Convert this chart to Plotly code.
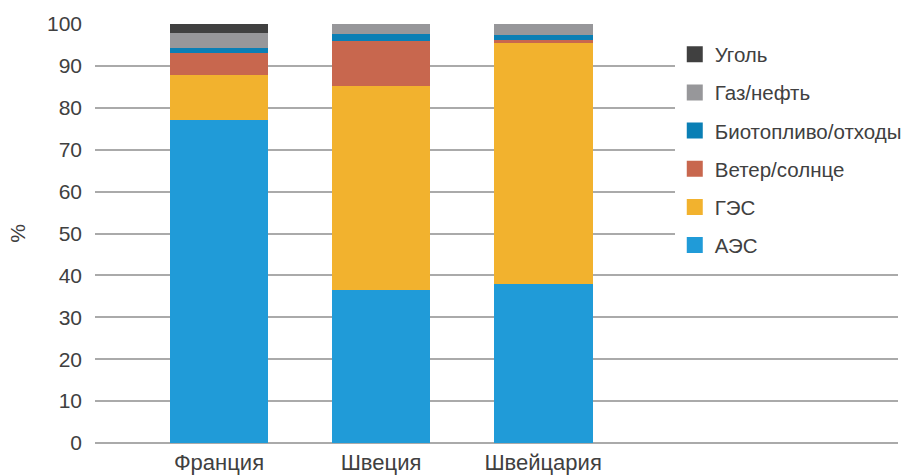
import plotly.graph_objects as go

countries = ["Франция", "Швеция", "Швейцария"]
series_names = ["АЭС", "ГЭС", "Ветер/солнце", "Биотопливо/отходы", "Газ/нефть", "Уголь"]
aes = [77.1, 36.5, 37.9]
ges = [10.7, 48.7, 57.6]
wind_solar = [5.3, 10.7, 0.7]
bio = [1.2, 1.7, 1.2]
gas_oil = [3.6, 2.4, 2.6]
coal = [2.1, 0.0, 0.0]
values = [aes, ges, wind_solar, bio, gas_oil, coal]
colors = ["#209bd8", "#f2b22e", "#c8674e", "#0a7fb5", "#97979a", "#404040"]
yticks = [0, 10, 20, 30, 40, 50, 60, 70, 80, 90, 100]

fig = go.Figure()
for name, vals, col in zip(series_names, values, colors):
    fig.add_trace(go.Bar(x=countries, y=vals, name=name, marker=dict(color=col, line=dict(width=0)),
                         width=0.61, showlegend=False))

# legend entries (square swatches), top to bottom: Уголь ... АЭС
for rank, (name, col) in enumerate(zip(series_names[::-1], colors[::-1])):
    fig.add_trace(go.Scatter(x=[None], y=[None], mode="markers", name=name,
                             marker=dict(symbol="square", size=17, color=col),
                             legendgroup=name, legendrank=rank + 1))

FONT = "Liberation Sans"
fig.update_layout(
    barmode="stack",
    width=909, height=475,
    margin=dict(l=95, r=2, t=24, b=32),
    paper_bgcolor="white", plot_bgcolor="white",
    font=dict(family=FONT, color="#404040"),
    legend=dict(x=0.722, xanchor="left", y=0.975, yanchor="top", bgcolor="white",
                font=dict(family=FONT, size=20.5, color="#404040"), tracegroupgap=8.5, itemsizing="trace"),
    xaxis=dict(range=[-0.765, 4.19], showgrid=False, showline=False, zeroline=False, automargin=False,
               tickfont=dict(family=FONT, size=22, color="#404040"), ticks="", ticklabelstandoff=4),
    yaxis=dict(range=[0, 100], tickvals=yticks, showgrid=True, gridcolor="#aaaaaa", gridwidth=1.5,
               zeroline=True, zerolinecolor="#aaaaaa", zerolinewidth=1.5, showline=False, automargin=False,
               tickfont=dict(family=FONT, size=21, color="#404040"), ticklabelstandoff=12,
               title=dict(text="%", font=dict(family=FONT, size=21, color="#404040"), standoff=15)),
)

fig.write_html("out.html")
